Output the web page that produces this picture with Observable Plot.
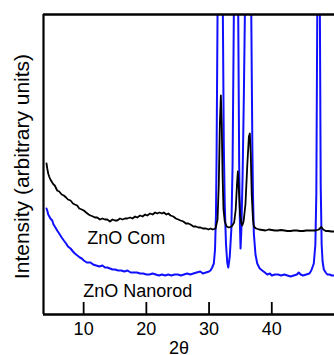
<!DOCTYPE html>
<html>
<head>
<meta charset="utf-8">
<script src="https://cdn.jsdelivr.net/npm/d3@7"></script>
<script src="https://cdn.jsdelivr.net/npm/@observablehq/plot@0.6"></script>
<style>
  html, body { margin: 0; padding: 0; background: #fff; }
  #chart { width: 334px; height: 355px; overflow: hidden; }
</style>
</head>
<body>
<div id="chart"></div>
<script>
// 2θ tick labels
const xTicks = [10, 20, 30, 40];

// ZnO Com (black) — 2θ and intensity (arbitrary units)
const comX = [4.08,4.2,4.35,4.5,4.7,4.99,5.2,5.4,5.78,6.1,6.5,6.84,7.2,7.5,7.91,8.3,8.6,8.97,9.3,9.7,10.03,10.4,10.8,11.1,11.5,11.8,12.16,12.6,13.0,13.4,13.76,14.2,14.6,15.0,15.35,15.8,16.2,16.6,16.95,17.4,17.8,18.2,18.54,19.0,19.4,19.8,20.14,20.6,21.0,21.4,21.73,22.1,22.5,22.79,23.2,23.5,23.86,24.3,24.7,25.1,25.45,25.9,26.3,26.7,27.04,27.5,27.9,28.3,28.64,29.0,29.5,29.9,30.23,30.6,31.03,31.35,31.55,31.72,31.88,32.02,32.15,32.3,32.5,32.8,33.16,33.6,34.0,34.25,34.45,34.59,34.75,34.95,35.15,35.29,35.5,35.8,36.1,36.35,36.5,36.65,36.8,37.0,37.14,37.5,38.0,38.5,39.0,39.5,40.0,40.5,41.0,41.5,42.0,42.5,43.0,43.5,44.0,44.5,45.0,45.5,46.0,46.5,47.0,47.5,47.9,48.2,48.6,49.0,49.5,50.0];
const comY = [151,146,141,138,135,132,130,129,124,123,120,119,117,115,114,111,110,109,106,105,104,102,100,99,98,97,97,95,96,95,95,93,95,94,94,96,95,96,96,97,96,98,97,99,98,100,99,101,100,102,101,102,101,102,100,101,99,98,96,95,94,93,91,91,90,88,88,87,87,86,86,85,86,85,86,95,130,190,219,190,140,105,93,88,87,88,92,105,130,143,125,100,91,89,93,110,150,178,181,160,120,95,88,86,85,84.5,84,85,84.5,84,84,84.5,84,83.5,83.5,84,84,83.5,83.5,84,84,84,84,85,87.5,85,83.5,83.5,83,83];

// ZnO Nanorod (blue)
const rodX = [4.08,4.2,4.35,4.45,4.7,4.99,5.2,5.5,5.78,6.1,6.5,6.84,7.2,7.5,7.91,8.3,8.6,9.0,9.4,9.7,10.03,10.5,11.1,11.5,12.0,12.5,13.0,13.4,13.8,14.2,14.6,15.0,15.5,16.0,16.5,17.0,17.5,18.0,18.5,19.0,19.5,20.0,20.5,21.0,21.5,22.0,22.5,23.0,23.5,24.0,24.5,25.0,25.5,26.0,26.5,27.0,27.5,28.0,28.6,29.0,29.5,30.0,30.23,30.5,30.76,30.95,31.1,31.2,31.35,31.6,31.78,31.95,32.2,32.35,32.5,32.7,32.9,33.06,33.3,33.55,33.75,33.95,34.2,34.38,34.55,34.65,34.8,34.92,35.02,35.15,35.35,35.55,35.71,35.95,36.22,36.5,36.73,36.9,37.0,37.14,37.4,37.68,38.08,38.48,38.9,39.28,39.7,40.0,40.5,41.0,41.5,42.0,42.5,43.0,43.5,44.0,44.3,44.6,45.0,45.5,46.0,46.3,46.7,46.95,47.1,47.25,47.46,47.67,47.8,47.95,48.1,48.3,48.6,48.85,49.2,49.6,50.0];
const rodY = [106,104,100,99,96,94,90,87,84,81,77,74,71,68,66,63,61,59,57,56,54,52,52,50,49,48,49,47,47,46,45,45,44,44,43,44,42,42,42,41,41,40,40,41,40,39,40,39,40,39,40,40,39,40,41,40,41,42,43,41,42,43,44,47,51,65,100,160,300,500,650,500,300,170,110,70,52,47,58,85,150,300,520,650,450,300,150,90,66,85,140,220,300,500,650,480,300,170,120,81,60,51,46,44,42,40,41,39,40,40,39,40,39,38,39,40,42,40,39,40,41,44,51,70,120,300,500,300,130,70,53,45,42,40,40,39,39];

const com = comX.map((x, i) => ({x, y: comY[i]}));
const rod = rodX.map((x, i) => ({x, y: rodY[i]}));

const font = "'Liberation Sans', Arial, Helvetica, sans-serif";

const chart = Plot.plot({
  width: 334,
  height: 355,
  marginLeft: 43,
  marginRight: 0,
  marginTop: 14,
  marginBottom: 41,
  style: {fontFamily: font, background: "#fff", color: "#000"},
  x: {domain: [3.6, 50], axis: null},
  y: {domain: [0, 300], axis: null},
  marks: [
    Plot.line(rod, {x: "x", y: "y", stroke: "#1010ff", strokeWidth: 2, clip: true}),
    Plot.line(com, {x: "x", y: "y", stroke: "#000", strokeWidth: 1.8, clip: true}),
    Plot.ruleX(xTicks, {y1: 0, y2: 12, stroke: "#000", strokeWidth: 1.8}),
    Plot.axisX(xTicks, {tickSize: 0, tickPadding: 8, fontSize: 18, label: null, stroke: null, fill: "#000"}),
    Plot.ruleY([0, 300], {stroke: "#000", strokeWidth: 2.5}),
    Plot.ruleX([3.6], {stroke: "#000", strokeWidth: 2.2}),
    Plot.text(["ZnO Com"], {x: [10.57], y: [76], text: d => d, textAnchor: "start", fontSize: 18, fill: "#000"}),
    Plot.text(["ZnO Nanorod"], {x: [9.93], y: [23], text: d => d, textAnchor: "start", fontSize: 18, fill: "#000"}),
    Plot.text(["2θ"], {frameAnchor: "bottom", textAnchor: "middle", dx: -10, dy: 27, lineAnchor: "top", fontSize: 18, fill: "#000"}),
    Plot.text(["Intensity (arbitrary units)"], {frameAnchor: "left", textAnchor: "middle", lineAnchor: "middle", dx: -21, dy: 2, rotate: -90, fontSize: 21, fill: "#000"})
  ]
});
document.getElementById("chart").appendChild(chart);
</script>
</body>
</html>
